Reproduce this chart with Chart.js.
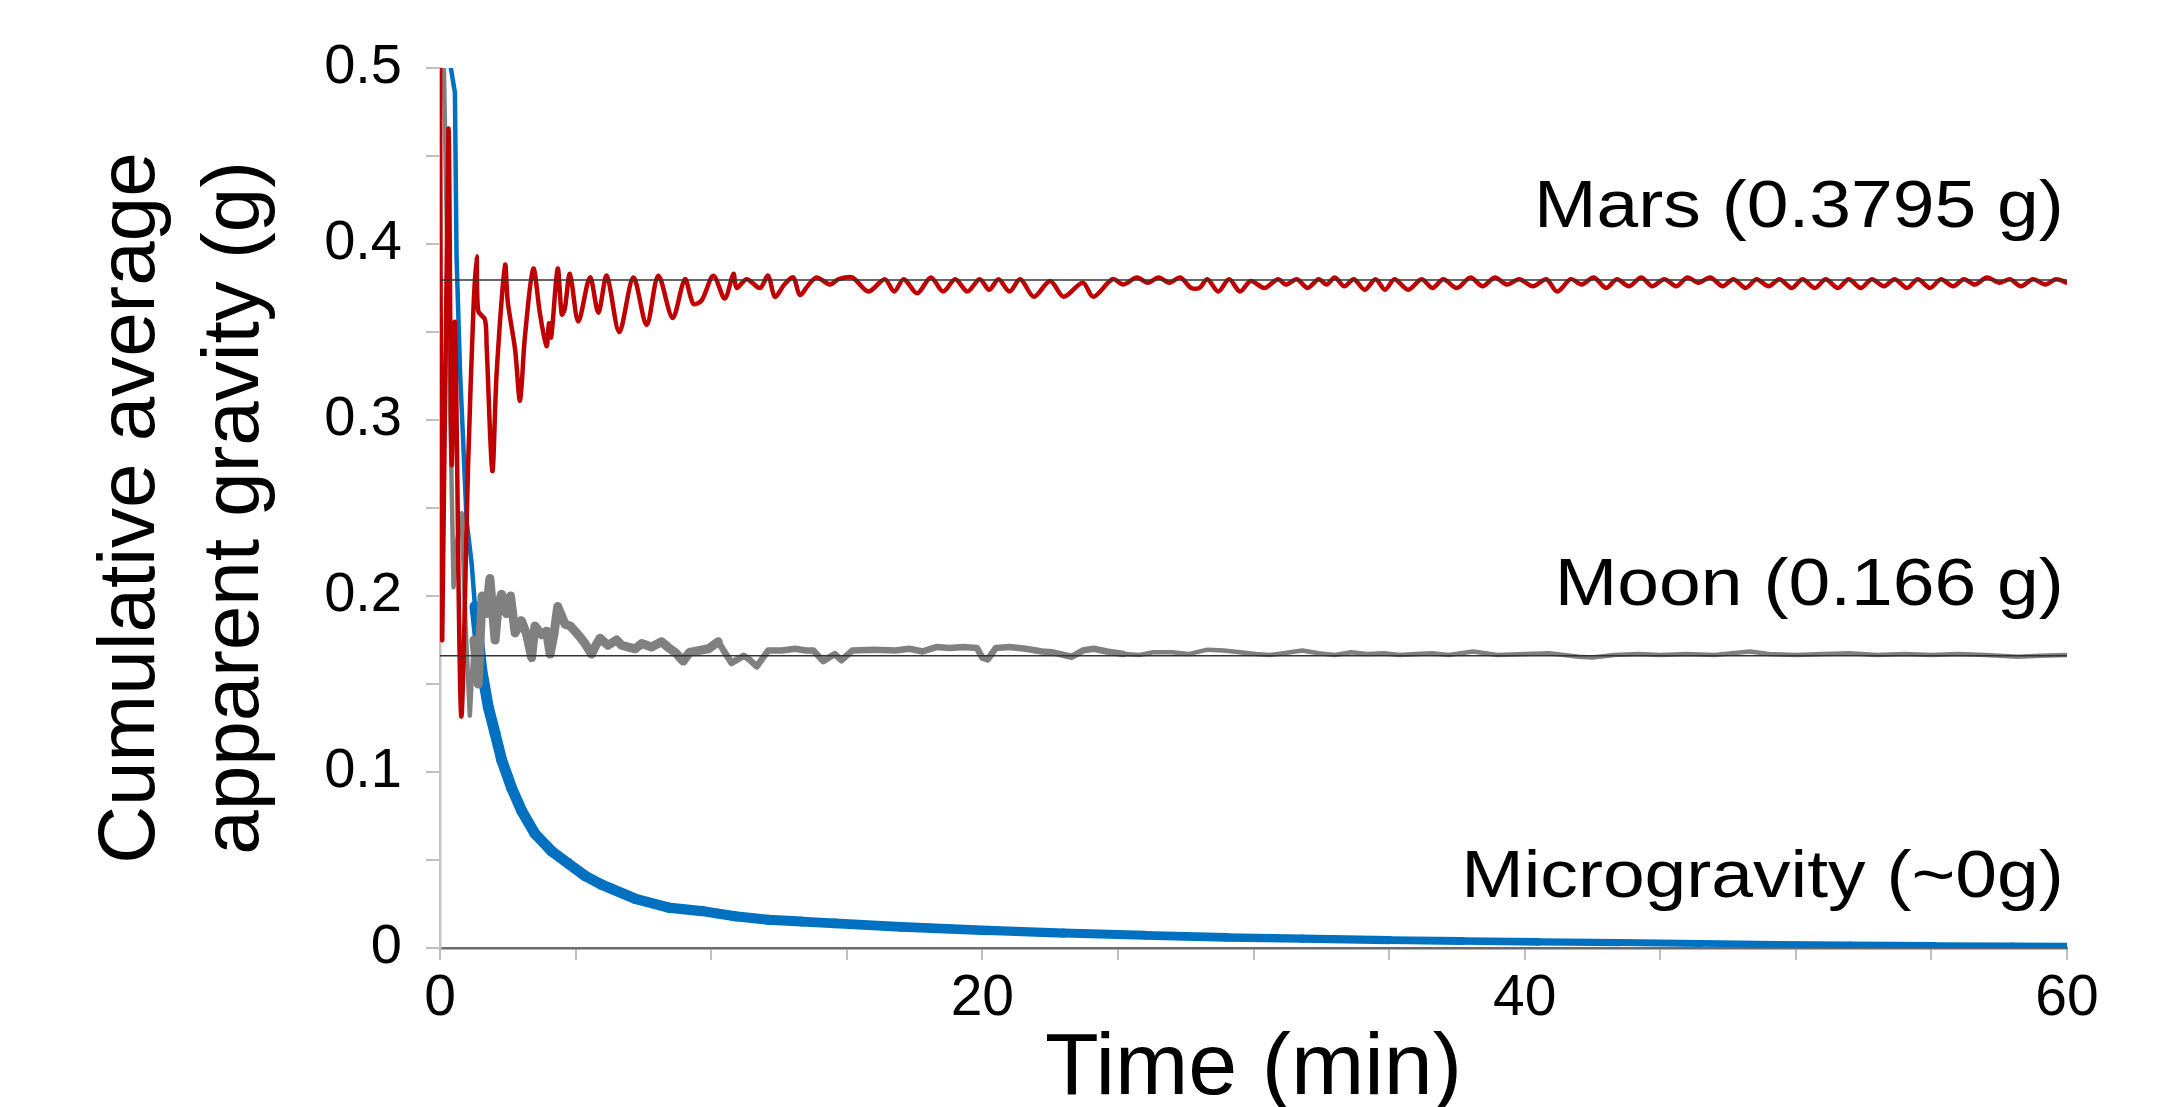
<!DOCTYPE html>
<html>
<head>
<meta charset="utf-8">
<title>Cumulative average apparent gravity</title>
<script src="https://cdn.jsdelivr.net/npm/chart.js@4.4.1/dist/chart.umd.min.js"></script>
<style>
    html, body { margin: 0; padding: 0; background: #fff; }
    #gravityChart { display: block; }
</style>
</head>
<body>
<canvas id="gravityChart" width="2177" height="1107"></canvas>
<script>
// [time (min), cumulative average apparent gravity (g)]
const marsSeries = [
    [0, 0.52], [0.08, 0.175], [0.31, 0.465], [0.43, 0.275], [0.55, 0.355], [0.78, 0.132],
    [1.04, 0.276], [1.23, 0.362], [1.35, 0.393], [1.41, 0.362], [1.66, 0.357], [1.72, 0.342],
    [1.93, 0.271], [2.09, 0.327], [2.4, 0.388], [2.5, 0.367], [2.77, 0.34], [2.95, 0.311],
    [3.13, 0.347], [3.44, 0.386], [3.69, 0.36], [3.93, 0.342], [4.02, 0.355], [4.1, 0.347],
    [4.34, 0.386], [4.49, 0.36], [4.6, 0.363], [4.79, 0.383], [5.1, 0.356], [5.53, 0.381],
    [5.84, 0.361], [6.15, 0.382], [6.61, 0.35], [7.13, 0.381], [7.62, 0.354], [8.05, 0.382],
    [8.58, 0.358], [9.03, 0.38], [9.34, 0.366], [9.65, 0.368], [10.08, 0.382], [10.5, 0.369],
    [10.82, 0.383], [10.94, 0.375], [11.31, 0.38], [11.8, 0.375], [12.1, 0.382], [12.35, 0.37],
    [12.7, 0.377], [13.03, 0.381], [13.27, 0.371], [13.6, 0.377], [13.89, 0.381], [14.38, 0.377],
    [14.7, 0.38], [15.2, 0.381], [15.8, 0.373], [16.4, 0.38], [16.75, 0.373], [17.1, 0.38],
    [17.6, 0.372], [18.1, 0.381], [18.55, 0.373], [19.0, 0.38], [19.45, 0.373], [19.9, 0.38],
    [20.25, 0.374], [20.6, 0.38], [21.0, 0.373], [21.4, 0.38], [21.9, 0.37], [22.5, 0.379],
    [23.0, 0.37], [23.7, 0.378], [24.1, 0.37], [24.8, 0.38], [25.2, 0.377], [25.7, 0.381],
    [26.1, 0.378], [26.5, 0.381], [26.9, 0.378], [27.3, 0.381], [27.7, 0.375], [28.0, 0.375],
    [28.3, 0.38], [28.7, 0.373], [29.1, 0.38], [29.5, 0.373], [29.9, 0.379], [30.4, 0.375],
    [30.9, 0.38], [31.2, 0.377], [31.6, 0.38], [32.0, 0.375], [32.4, 0.38], [32.7, 0.377],
    [33.0, 0.381], [33.35, 0.376], [33.7, 0.38], [34.1, 0.374], [34.5, 0.38], [34.85, 0.374],
    [35.2, 0.38], [35.7, 0.374], [36.2, 0.38], [36.6, 0.375], [37.0, 0.38], [37.5, 0.375],
    [38.0, 0.381], [38.45, 0.376], [38.9, 0.381], [39.35, 0.377], [39.8, 0.38], [40.3, 0.376],
    [40.8, 0.38], [41.2, 0.373], [41.7, 0.38], [42.1, 0.377], [42.55, 0.381], [43.0, 0.375],
    [43.4, 0.38], [43.85, 0.376], [44.3, 0.381], [44.7, 0.376], [45.15, 0.38], [45.6, 0.376],
    [46.0, 0.381], [46.4, 0.378], [46.85, 0.381], [47.3, 0.376], [47.7, 0.38], [48.15, 0.375],
    [48.55, 0.38], [49.0, 0.376], [49.4, 0.38], [49.85, 0.375], [50.25, 0.38], [50.7, 0.375],
    [51.1, 0.38], [51.55, 0.375], [51.95, 0.38], [52.4, 0.375], [52.8, 0.38], [53.25, 0.376],
    [53.65, 0.38], [54.1, 0.375], [54.5, 0.38], [54.95, 0.375], [55.35, 0.38], [55.8, 0.376],
    [56.2, 0.38], [56.6, 0.377], [57.05, 0.381], [57.5, 0.378], [57.9, 0.38], [58.3, 0.376],
    [58.75, 0.38], [59.2, 0.377], [59.6, 0.38], [60, 0.378]
];

const moonSeries = [
    [0.12, 0.52], [0.5, 0.205], [0.62, 0.23], [0.8, 0.247], [0.95, 0.18], [1.1, 0.132],
    [1.25, 0.175], [1.41, 0.15], [1.55, 0.2], [1.7, 0.19], [1.84, 0.21], [2.03, 0.175],
    [2.15, 0.195], [2.27, 0.201], [2.45, 0.19], [2.6, 0.2], [2.77, 0.179], [3.0, 0.186],
    [3.2, 0.178], [3.38, 0.165], [3.5, 0.183], [3.75, 0.178], [3.93, 0.18], [4.06, 0.167],
    [4.2, 0.178], [4.34, 0.194], [4.61, 0.184], [4.8, 0.183], [4.98, 0.18], [5.2, 0.176],
    [5.35, 0.173], [5.59, 0.167], [5.75, 0.172], [5.9, 0.176], [6.2, 0.172], [6.51, 0.175],
    [6.7, 0.172], [6.94, 0.171], [7.2, 0.17], [7.44, 0.173], [7.8, 0.171], [8.17, 0.174],
    [8.4, 0.171], [8.67, 0.168], [8.97, 0.163], [9.2, 0.168], [9.53, 0.169], [9.9, 0.17],
    [10.26, 0.174], [10.5, 0.168], [10.75, 0.162], [11.2, 0.166], [11.4, 0.164], [11.68, 0.16],
    [12.1, 0.169], [12.6, 0.169], [13.1, 0.17], [13.5, 0.169], [13.77, 0.169], [14.13, 0.163],
    [14.56, 0.167], [14.8, 0.1635], [15.2, 0.169], [16.0, 0.1695], [16.8, 0.169], [17.3, 0.17],
    [17.8, 0.1685], [18.3, 0.171], [18.8, 0.1705], [19.3, 0.171], [19.8, 0.1705], [20.0, 0.165],
    [20.2, 0.164], [20.5, 0.1705], [21.0, 0.171], [21.6, 0.17], [22.2, 0.1685], [22.6, 0.168],
    [23.0, 0.1665], [23.3, 0.1655], [23.7, 0.169], [24.1, 0.17], [24.6, 0.1685], [25.2, 0.167],
    [25.8, 0.1665], [26.3, 0.168], [27.0, 0.168], [27.6, 0.167], [28.3, 0.1695], [28.9, 0.169],
    [29.5, 0.168], [30.1, 0.167], [30.6, 0.1665], [31.1, 0.1675], [31.8, 0.169], [32.4, 0.1675],
    [33.0, 0.1665], [33.6, 0.168], [34.2, 0.167], [34.8, 0.1675], [35.4, 0.1665], [36.0, 0.167],
    [36.6, 0.1675], [37.2, 0.1665], [38.1, 0.1685], [39.0, 0.1665], [40.0, 0.167], [40.9, 0.1675],
    [42.0, 0.1655], [42.5, 0.165], [43.3, 0.1665], [44.2, 0.167], [45.0, 0.1665], [46.0, 0.167],
    [47.0, 0.1665], [48.3, 0.1685], [49.0, 0.167], [50.0, 0.1665], [51.0, 0.167], [52.0, 0.1675],
    [53.0, 0.1665], [54.0, 0.167], [55.0, 0.1665], [56.0, 0.167], [57.0, 0.1665], [58.2, 0.1655],
    [59.0, 0.166], [60.0, 0.1665]
];

const microSeries = [
    [0.36, 0.52], [0.4, 0.5], [0.55, 0.486], [0.61, 0.393], [0.74, 0.327], [0.86, 0.286],
    [0.98, 0.243], [1.17, 0.218], [1.29, 0.194], [1.54, 0.158], [1.78, 0.137], [2.03, 0.122],
    [2.27, 0.107], [2.64, 0.091], [3.01, 0.078], [3.5, 0.065], [4.12, 0.055], [4.73, 0.048],
    [5.35, 0.041], [5.96, 0.036], [7.19, 0.028], [8.42, 0.023], [9.65, 0.021], [10.88, 0.018],
    [12.1, 0.016], [13.34, 0.015], [14.57, 0.014], [17, 0.012], [20.2, 0.01], [23, 0.0085],
    [26, 0.0072], [29, 0.006], [31.8, 0.0053], [35, 0.0045], [37.7, 0.004], [40.5, 0.0035],
    [43.5, 0.0031], [46.5, 0.0026], [49.3, 0.0021], [52, 0.0019], [55.1, 0.0016], [58, 0.0015],
    [60, 0.0014]
];

// reference gravity levels
const marsLevel = 0.3795;
const moonLevel = 0.166;
const timeRange = [0, 60];

const seriesLabels = ['Mars (0.3795 g)', 'Moon (0.166 g)', 'Microgravity (~0g)'];
const yTicks = [0, 0.1, 0.2, 0.3, 0.4, 0.5];
const xTicks = [0, 20, 40, 60];

document.addEventListener('DOMContentLoaded', () => {
    const ctx = document.getElementById('gravityChart').getContext('2d');
    const FONT = '"Liberation Sans", Arial, sans-serif';

    const toPoints = arr => arr.map(([x, y]) => ({ x, y }));
    const levelLine = v => timeRange.map(x => ({ x, y: v }));

    // noisy traces look like thick bands in the original
    const moonWidth = c => {
        const t = c.p0.parsed.x;
        if (t < 1.2) return 4.5;
        if (t < 10) return 9;
        if (t < 25) return 6.5;
        return 4.5;
    };
    const microWidth = c => {
        const t = c.p0.parsed.x;
        if (t < 1.2) return 4.5;
        return 11 - 5.5 * (t - 1.2) / 58.8;
    };

    // annotation text on the right side
    const labelPlugin = {
        id: 'seriesLabels',
        afterDatasetsDraw(chart, args, opts) {
            const { ctx, scales: { x, y } } = chart;
            ctx.save();
            ctx.fillStyle = '#000';
            ctx.font = opts.size + 'px ' + FONT;
            ctx.textAlign = 'right';
            ctx.textBaseline = 'alphabetic';
            seriesLabels.forEach((text, i) => {
                ctx.save();
                ctx.translate(x.getPixelForValue(opts.xAt), y.getPixelForValue(opts.yAt[i]));
                ctx.scale(opts.stretch, 1);
                ctx.fillText(text, 0, 0);
                ctx.restore();
            });
            ctx.restore();
        }
    };

    const baseLine = {
        pointRadius: 0,
        pointHoverRadius: 0,
        tension: 0,
        fill: false,
        borderJoinStyle: 'round',
        borderCapStyle: 'round'
    };

    new Chart(ctx, {
        type: 'line',
        data: {
            datasets: [
                { ...baseLine, label: 'Mars level', data: levelLine(marsLevel), borderColor: '#333', borderWidth: 1.5, borderCapStyle: 'butt' },
                { ...baseLine, label: 'Moon level', data: levelLine(moonLevel), borderColor: '#333', borderWidth: 1.5, borderCapStyle: 'butt' },
                { ...baseLine, label: 'Mars', data: toPoints(marsSeries), borderColor: '#c00000', borderWidth: 4.5, tension: 0.3 },
                { ...baseLine, label: 'Moon', data: toPoints(moonSeries), borderColor: '#808080', borderWidth: 5, segment: { borderWidth: moonWidth } },
                { ...baseLine, label: 'Microgravity', data: toPoints(microSeries), borderColor: '#0070c0', borderWidth: 5, segment: { borderWidth: microWidth } }
            ]
        },
        options: {
            responsive: false,
            animation: false,
            events: [],
            layout: { padding: { top: 68, right: 110, bottom: 0, left: 0 } },
            scales: {
                x: {
                    type: 'linear',
                    min: timeRange[0],
                    max: timeRange[1],
                    afterFit: s => { s.height = 159; },
                    border: { display: true, color: '#6b6b6b', width: 2.5 },
                    grid: { drawOnChartArea: false, drawTicks: true, tickLength: 12, color: '#bfbfbf', lineWidth: 2 },
                    ticks: {
                        stepSize: 5,
                        autoSkip: false,
                        maxRotation: 0,
                        padding: 5,
                        color: '#000',
                        font: { family: FONT, size: 57 },
                        callback: v => xTicks.includes(v) ? String(v) : ''
                    },
                    title: {
                        display: true,
                        text: 'Time (min)',
                        color: '#000',
                        font: { family: FONT, size: 88, lineHeight: 0.9 },
                        padding: { top: 0, bottom: -2 }
                    }
                },
                y: {
                    min: 0,
                    max: 0.5,
                    afterFit: s => { s.width = 440; },
                    border: { display: true, color: '#c4c4c4', width: 2.5 },
                    grid: { drawOnChartArea: false, drawTicks: true, tickLength: 14, color: '#bfbfbf', lineWidth: 2 },
                    ticks: {
                        stepSize: 0.05,
                        autoSkip: false,
                        padding: 24,
                        color: '#000',
                        font: { family: FONT, size: 56 },
                        callback: v => {
                            const hit = yTicks.find(t => Math.abs(t - v) < 1e-6);
                            return hit === undefined ? '' : String(hit);
                        }
                    },
                    title: {
                        display: true,
                        text: ['Cumulative average', 'apparent gravity (g)'],
                        color: '#000',
                        font: { family: FONT, size: 80, lineHeight: 1.3 },
                        padding: { top: 80, bottom: 0 }
                    }
                }
            },
            plugins: {
                legend: { display: false },
                tooltip: { enabled: false },
                seriesLabels: { size: 67, stretch: 1.12, xAt: 59.88, yAt: [0.4095, 0.1947, 0.0288] }
            }
        },
        plugins: [labelPlugin]
    });
});
</script>
</body>
</html>
